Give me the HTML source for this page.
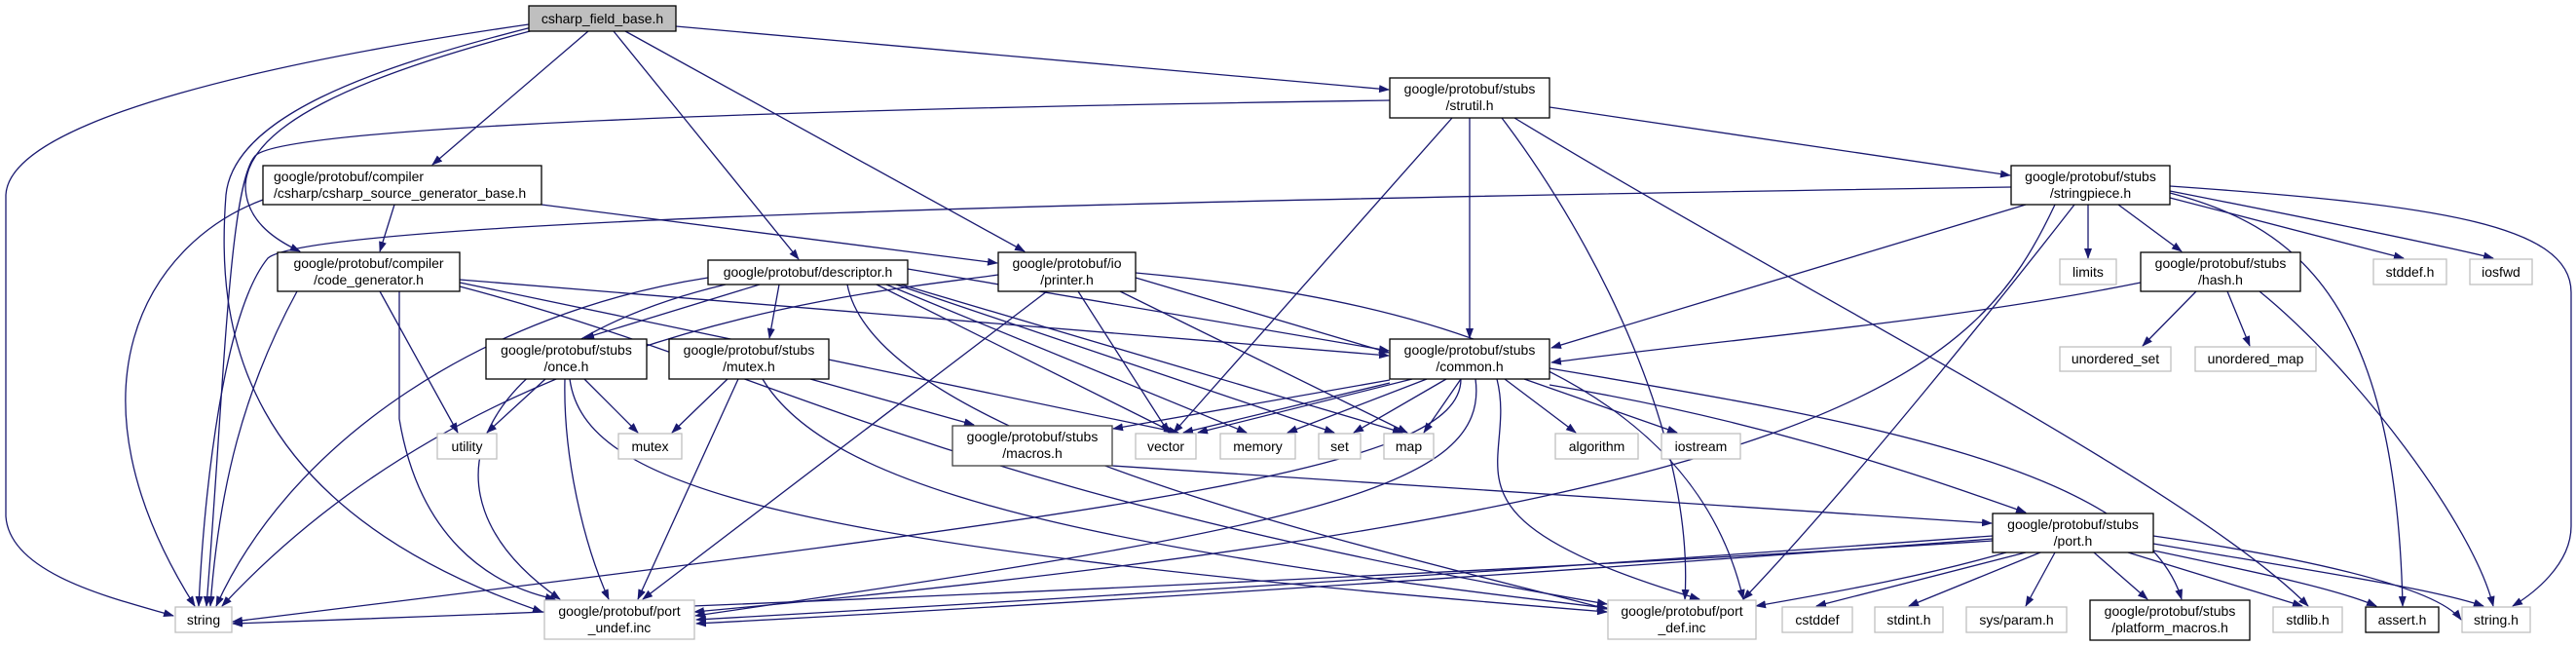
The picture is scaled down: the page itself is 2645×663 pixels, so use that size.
<!DOCTYPE html>
<html><head><meta charset="utf-8"><style>
html,body{margin:0;padding:0;background:#fff;}
svg{display:block;}
text{font-family:"Liberation Sans",sans-serif;font-size:14px;fill:#000;}
.e{fill:none;stroke:#191970;stroke-width:1.3;marker-end:url(#a);}
.n{fill:#fff;stroke:#000;stroke-width:1.3;}
.g{fill:#fff;stroke:#bfbfbf;stroke-width:1.3;}
</style></head><body>
<svg width="2645" height="663" viewBox="0 0 2645 663" xmlns="http://www.w3.org/2000/svg">
<defs><marker id="a" markerWidth="11" markerHeight="8" refX="10" refY="4" orient="auto" markerUnits="userSpaceOnUse"><path d="M0,0 L11,4 L0,8 z" fill="#191970"/></marker></defs>

<!-- edges from csharp_field_base -->
<path class="e" d="M543,25 C300,60 10,120 6,200 L6,530 C10,590 120,615 178,632"/>
<path class="e" d="M546,28 C380,70 240,120 232,200 C222,330 240,520 557,628"/>
<path class="e" d="M548,31 C360,80 255,130 252,190 C252,225 280,245 308,258"/>
<path class="e" d="M604,32 L444,169"/>
<path class="e" d="M630,32 L820,266"/>
<path class="e" d="M642,32 L1052,258"/>
<path class="e" d="M694,27 L1426,92"/>

<!-- strutil -->
<path class="e" d="M1427,103 C800,112 290,130 262,160 C235,190 230,400 212,622"/>
<path class="e" d="M1491,121 L1205,444"/>
<path class="e" d="M1509,121 L1509,347"/>
<path class="e" d="M1542,121 C1640,250 1740,450 1730,615"/>
<path class="e" d="M1555,121 C1850,300 2250,500 2370,622"/>
<path class="e" d="M1591,110 L2064,180"/>

<!-- stringpiece -->
<path class="e" d="M2065,192 C1200,205 320,225 275,265 C230,320 210,500 204,622"/>
<path class="e" d="M2144,210 L2144,265"/>
<path class="e" d="M2175,210 L2240,258"/>
<path class="e" d="M2228,203 L2468,265"/>
<path class="e" d="M2228,196 C2350,220 2500,250 2560,265"/>
<path class="e" d="M2228,191 C2500,210 2640,230 2640,300 L2640,540 C2640,580 2600,610 2580,622"/>
<path class="e" d="M2228,198 C2350,230 2460,300 2467,622"/>
<path class="e" d="M2080,210 L1593,357"/>
<path class="e" d="M2130,210 C2060,300 1900,500 1790,615"/>
<path class="e" d="M2110,210 C2030,380 1900,520 713,628"/>

<!-- hash -->
<path class="e" d="M2255,299 L2200,355"/>
<path class="e" d="M2287,299 L2310,355"/>
<path class="e" d="M2198,290 C2000,330 1800,345 1593,372"/>
<path class="e" d="M2320,299 C2420,380 2540,540 2560,622"/>

<!-- common -->
<path class="e" d="M1427,390 L1143,440"/>
<path class="e" d="M1427,393 L1215,444"/>
<path class="e" d="M1450,389 L1230,444"/>
<path class="e" d="M1465,389 L1322,444"/>
<path class="e" d="M1485,389 L1390,444"/>
<path class="e" d="M1500,389 L1462,444"/>
<path class="e" d="M1545,389 L1618,444"/>
<path class="e" d="M1565,389 L1722,444"/>
<path class="e" d="M1591,395 C1800,430 1950,480 2080,526"/>
<path class="e" d="M1591,378 C1900,430 2200,480 2240,615"/>
<path class="e" d="M1537,389 C1560,480 1460,530 1745,615"/>
<path class="e" d="M1515,389 C1530,500 1350,540 714,632"/>
<path class="e" d="M1500,389 C1500,480 1200,520 239,638"/>

<!-- descriptor -->
<path class="e" d="M780,292 L600,347"/>
<path class="e" d="M800,292 L790,347"/>
<path class="e" d="M932,276 L1426,360"/>
<path class="e" d="M900,292 L1205,444"/>
<path class="e" d="M910,292 L1280,444"/>
<path class="e" d="M920,292 L1370,444"/>
<path class="e" d="M925,292 L1440,444"/>
<path class="e" d="M727,285 C500,320 300,450 222,622"/>
<path class="e" d="M745,292 C500,350 410,500 575,615"/>
<path class="e" d="M870,292 C900,450 1400,560 1650,625"/>

<!-- code generator -->
<path class="e" d="M410,299 L410,430 C430,550 500,600 570,615"/>
<path class="e" d="M390,299 L470,444"/>
<path class="e" d="M305,299 C250,400 225,500 216,622"/>
<path class="e" d="M472,287 L1426,365"/>
<path class="e" d="M472,290 L1210,444"/>
<path class="e" d="M472,294 C800,380 950,500 1650,620"/>

<!-- source gen -->
<path class="e" d="M405,210 L390,258"/>
<path class="e" d="M556,210 L1024,270"/>
<path class="e" d="M270,205 C150,250 60,400 200,622"/>

<!-- printer -->
<path class="e" d="M1166,285 L1426,362"/>
<path class="e" d="M1107,299 L1200,444"/>
<path class="e" d="M1150,299 L1445,444"/>
<path class="e" d="M1075,299 L660,615"/>
<path class="e" d="M1025,282 C900,300 500,330 228,622"/>
<path class="e" d="M1166,280 C1500,310 1740,400 1790,615"/>

<!-- once -->
<path class="e" d="M560,389 L500,444"/>
<path class="e" d="M600,389 L655,444"/>
<path class="e" d="M580,389 C578,470 600,560 625,615"/>
<path class="e" d="M585,389 C600,500 800,560 1650,628"/>

<!-- mutex.h -->
<path class="e" d="M747,389 L690,444"/>
<path class="e" d="M832,389 L1000,436"/>
<path class="e" d="M758,389 L655,615"/>
<path class="e" d="M783,389 C850,500 1100,560 1650,624"/>

<!-- macros -->
<path class="e" d="M1142,478 L2045,537"/>

<!-- port.h -->
<path class="e" d="M2046,555 C1500,590 800,620 239,640"/>
<path class="e" d="M2046,550 C1500,590 1000,620 715,636"/>
<path class="e" d="M2046,553 C1500,595 1000,625 715,640"/>
<path class="e" d="M2060,567 C1980,590 1900,605 1803,622"/>
<path class="e" d="M2080,567 L1865,622"/>
<path class="e" d="M2095,567 L1960,622"/>
<path class="e" d="M2110,567 L2080,622"/>
<path class="e" d="M2150,567 L2205,615"/>
<path class="e" d="M2185,567 L2364,622"/>
<path class="e" d="M2211,565 C2330,590 2400,605 2440,622"/>
<path class="e" d="M2211,558 C2400,590 2500,605 2550,622"/>
<path class="e" d="M2211,550 C2350,570 2500,600 2527,636"/>

<!-- nodes -->
<rect x="543" y="6" width="151" height="26" fill="#bfbfbf" stroke="#000" stroke-width="1.3"/>
<text x="618.5" y="24" text-anchor="middle">csharp_field_base.h</text>

<rect class="n" x="270" y="170" width="286" height="40"/>
<text x="281" y="186">google/protobuf/compiler</text>
<text x="281" y="203">/csharp/csharp_source_generator_base.h</text>

<rect class="n" x="285" y="259" width="187" height="40"/>
<text x="378.5" y="275" text-anchor="middle">google/protobuf/compiler</text>
<text x="378.5" y="292" text-anchor="middle">/code_generator.h</text>

<rect class="n" x="727" y="267" width="205" height="25"/>
<text x="829.5" y="284" text-anchor="middle">google/protobuf/descriptor.h</text>

<rect class="n" x="1025" y="259" width="141" height="40"/>
<text x="1095.5" y="275" text-anchor="middle">google/protobuf/io</text>
<text x="1095.5" y="292" text-anchor="middle">/printer.h</text>

<rect class="n" x="1427" y="80" width="164" height="41"/>
<text x="1509" y="96" text-anchor="middle">google/protobuf/stubs</text>
<text x="1509" y="113" text-anchor="middle">/strutil.h</text>

<rect class="n" x="2065" y="170" width="163" height="40"/>
<text x="2146.5" y="186" text-anchor="middle">google/protobuf/stubs</text>
<text x="2146.5" y="203" text-anchor="middle">/stringpiece.h</text>

<rect class="g" x="2115" y="266" width="58" height="26"/><text x="2144" y="284" text-anchor="middle">limits</text>

<rect class="n" x="2198" y="259" width="164" height="40"/>
<text x="2280" y="275" text-anchor="middle">google/protobuf/stubs</text>
<text x="2280" y="292" text-anchor="middle">/hash.h</text>

<rect class="g" x="2437" y="266" width="75" height="26"/><text x="2474.5" y="284" text-anchor="middle">stddef.h</text>
<rect class="g" x="2536" y="266" width="64" height="26"/><text x="2568" y="284" text-anchor="middle">iosfwd</text>
<rect class="g" x="2115" y="356" width="114" height="25"/><text x="2172" y="373" text-anchor="middle">unordered_set</text>
<rect class="g" x="2254" y="356" width="124" height="25"/><text x="2316" y="373" text-anchor="middle">unordered_map</text>

<rect class="n" x="499" y="348" width="165" height="41"/>
<text x="581.5" y="364" text-anchor="middle">google/protobuf/stubs</text>
<text x="581.5" y="381" text-anchor="middle">/once.h</text>

<rect class="n" x="687" y="348" width="164" height="41"/>
<text x="769" y="364" text-anchor="middle">google/protobuf/stubs</text>
<text x="769" y="381" text-anchor="middle">/mutex.h</text>

<rect class="n" x="1427" y="348" width="164" height="41"/>
<text x="1509" y="364" text-anchor="middle">google/protobuf/stubs</text>
<text x="1509" y="381" text-anchor="middle">/common.h</text>

<rect x="978" y="437" width="164" height="41" fill="#fff" stroke="#404040" stroke-width="1.3"/>
<text x="1060" y="453" text-anchor="middle">google/protobuf/stubs</text>
<text x="1060" y="470" text-anchor="middle">/macros.h</text>

<rect class="g" x="449" y="445" width="61" height="26"/><text x="479.5" y="463" text-anchor="middle">utility</text>
<rect class="g" x="635" y="445" width="65" height="26"/><text x="667.5" y="463" text-anchor="middle">mutex</text>
<rect class="g" x="1166" y="445" width="62" height="26"/><text x="1197" y="463" text-anchor="middle">vector</text>
<rect class="g" x="1253" y="445" width="77" height="26"/><text x="1291.5" y="463" text-anchor="middle">memory</text>
<rect class="g" x="1354" y="445" width="43" height="26"/><text x="1375.5" y="463" text-anchor="middle">set</text>
<rect class="g" x="1421" y="445" width="51" height="26"/><text x="1446.5" y="463" text-anchor="middle">map</text>
<rect class="g" x="1597" y="445" width="85" height="26"/><text x="1639.5" y="463" text-anchor="middle">algorithm</text>
<rect class="g" x="1706" y="445" width="81" height="26"/><text x="1746.5" y="463" text-anchor="middle">iostream</text>

<rect class="n" x="2046" y="527" width="165" height="40"/>
<text x="2128.5" y="543" text-anchor="middle">google/protobuf/stubs</text>
<text x="2128.5" y="560" text-anchor="middle">/port.h</text>

<rect class="g" x="180" y="623" width="58" height="26"/><text x="209" y="641" text-anchor="middle">string</text>

<rect class="g" x="559" y="616" width="154" height="40"/>
<text x="636" y="632" text-anchor="middle">google/protobuf/port</text>
<text x="636" y="649" text-anchor="middle">_undef.inc</text>

<rect class="g" x="1651" y="616" width="152" height="40"/>
<text x="1727" y="632" text-anchor="middle">google/protobuf/port</text>
<text x="1727" y="649" text-anchor="middle">_def.inc</text>

<rect class="g" x="1830" y="623" width="72" height="26"/><text x="1866" y="641" text-anchor="middle">cstddef</text>
<rect class="g" x="1925" y="623" width="70" height="26"/><text x="1960" y="641" text-anchor="middle">stdint.h</text>
<rect class="g" x="2019" y="623" width="103" height="26"/><text x="2070.5" y="641" text-anchor="middle">sys/param.h</text>

<rect class="n" x="2146" y="616" width="164" height="41"/>
<text x="2228" y="632" text-anchor="middle">google/protobuf/stubs</text>
<text x="2228" y="649" text-anchor="middle">/platform_macros.h</text>

<rect class="g" x="2334" y="623" width="71" height="26"/><text x="2369.5" y="641" text-anchor="middle">stdlib.h</text>
<rect class="n" x="2429" y="623" width="75" height="26"/><text x="2466.5" y="641" text-anchor="middle">assert.h</text>
<rect class="g" x="2528" y="623" width="70" height="26"/><text x="2563" y="641" text-anchor="middle">string.h</text>
</svg>
</body></html>
